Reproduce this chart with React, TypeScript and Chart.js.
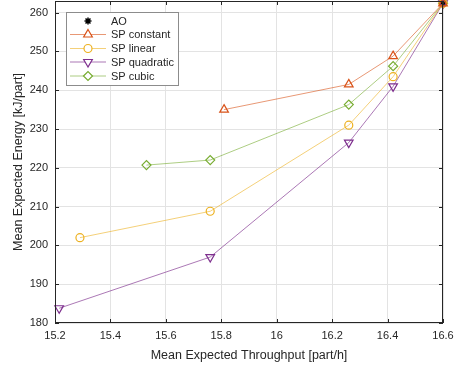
import React, { useEffect, useRef } from "react";
import { Chart, registerables, PointElement } from "chart.js";
Chart.register(...registerables);

const xAO = [16.6];
const yAO = [262.4];
const xConstant = [15.81, 16.26, 16.42, 16.6];
const yConstant = [235.0, 241.5, 248.8, 262.4];
const xLinear = [15.29, 15.76, 16.26, 16.42, 16.6];
const yLinear = [202.0, 208.8, 231.0, 243.5, 262.4];
const xQuadratic = [15.215, 15.76, 16.26, 16.42, 16.6];
const yQuadratic = [183.8, 197.0, 226.5, 241.0, 262.4];
const xCubic = [15.53, 15.76, 16.26, 16.42, 16.6];
const yCubic = [220.7, 222.0, 236.3, 246.2, 262.4];
const seriesNames = ["AO", "SP constant", "SP linear", "SP quadratic", "SP cubic"];
const xTicks = [15.2, 15.4, 15.6, 15.8, 16, 16.2, 16.4, 16.6];
const yTicks = [180, 190, 200, 210, 220, 230, 240, 250, 260];

const FONT = "'Liberation Sans', Arial, Helvetica, sans-serif";
const TEXT = "#262626";

const pts = (xs: number[], ys: number[]) => xs.map((x, i) => ({ x, y: ys[i] }));

const frameAndLegend = {
  id: "frameAndLegend",
  afterDraw(chart: any) {
    const { ctx, chartArea: a, scales } = chart;
    ctx.save();
    ctx.strokeStyle = "#262626";
    ctx.lineWidth = 1;
    ctx.strokeRect(a.left + 0.5, a.top + 0.5, a.right - a.left - 1, a.bottom - a.top - 1);
    const tl = 4;
    ctx.beginPath();
    xTicks.forEach((v) => {
      const px = Math.round(scales.x.getPixelForValue(v)) + 0.5;
      ctx.moveTo(px, a.bottom);
      ctx.lineTo(px, a.bottom - tl);
      ctx.moveTo(px, a.top);
      ctx.lineTo(px, a.top + tl);
    });
    yTicks.forEach((v) => {
      const py = Math.round(scales.y.getPixelForValue(v)) + 0.5;
      ctx.moveTo(a.left, py);
      ctx.lineTo(a.left + tl, py);
      ctx.moveTo(a.right, py);
      ctx.lineTo(a.right - tl, py);
    });
    ctx.stroke();

    const bx = 66, by = 12, bw = 112, bh = 73;
    ctx.fillStyle = "#ffffff";
    ctx.fillRect(bx, by, bw, bh);
    ctx.strokeStyle = "#8c8c8c";
    ctx.strokeRect(bx + 0.5, by + 0.5, bw, bh);
    const rowY = [21, 34.5, 48.5, 62, 76];
    const order = [4, 0, 1, 2, 3];
    order.forEach((di, r) => {
      const ds = chart.data.datasets[di];
      const y = rowY[r];
      if (ds.showLine !== false) {
        ctx.strokeStyle = ds.borderColor;
        ctx.lineWidth = 1;
        ctx.beginPath();
        ctx.moveTo(70, y);
        ctx.lineTo(106, y);
        ctx.stroke();
      }
      const p: any = new PointElement({} as any);
      p.x = 88;
      p.y = y;
      p.options = {
        pointStyle: ds.pointStyle,
        rotation: ds.pointRotation || 0,
        radius: ds.pointRadius,
        borderWidth: ds.pointBorderWidth,
        borderColor: ds.pointBorderColor,
        backgroundColor: "rgba(255,255,255,1)",
      };
      p.draw(ctx, { left: 0, top: 0, right: 457, bottom: 369 });
      ctx.fillStyle = TEXT;
      ctx.font = `11px ${FONT}`;
      ctx.textBaseline = "middle";
      ctx.textAlign = "left";
      ctx.fillText(seriesNames[di === 4 ? 0 : di + 1], 111, y + 0.5);
    });
    ctx.restore();
  },
};

export default function App() {
  const ref = useRef<HTMLCanvasElement>(null);
  useEffect(() => {
    const mk = (label: string, data: any, color: string, line: string, style: string, radius: number, rot = 0) => ({
      label,
      data,
      borderColor: line,
      backgroundColor: "#ffffff",
      pointBorderColor: color,
      pointBackgroundColor: "rgba(0,0,0,0)",
      pointStyle: style,
      pointRadius: radius,
      pointRotation: rot,
      pointBorderWidth: 1.2,
      borderWidth: 1,
      showLine: true,
      tension: 0,
      clip: false,
    });
    const dsConst = mk("SP constant", pts(xConstant, yConstant), "#D95319", "rgba(217,83,25,0.6)", "triangle", 5);
    const dsLin = mk("SP linear", pts(xLinear, yLinear), "#EDB120", "rgba(237,177,32,0.6)", "circle", 4);
    const dsQuad = mk("SP quadratic", pts(xQuadratic, yQuadratic), "#7E2F8E", "rgba(126,47,142,0.65)", "triangle", 5, 180);
    const dsCubic = mk("SP cubic", pts(xCubic, yCubic), "#77AC30", "rgba(119,172,48,0.6)", "rectRot", 4.5);
    const dsAO: any = mk("AO", pts(xAO, yAO), "#000000", "#000000", "star", 3.5);
    dsAO.showLine = false;
    dsAO.pointBorderWidth = 1.5;
    const chart = new Chart(ref.current!, {
      type: "scatter",
      data: { datasets: [dsConst, dsLin, dsQuad, dsCubic, dsAO] as any },
      plugins: [frameAndLegend],
      options: {
        animation: false,
        responsive: false,
        devicePixelRatio: 1,
        layout: { autoPadding: false, padding: { top: 1, right: 14, left: 11, bottom: 6 } },
        plugins: { legend: { display: false }, tooltip: { enabled: false } },
        scales: {
          x: {
            type: "linear",
            min: 15.2,
            max: 16.6,
            afterBuildTicks: (s: any) => {
              s.ticks = xTicks.map((v) => ({ value: v }));
            },
            afterFit: (s: any) => {
              s.height = 40;
              s.paddingLeft = 0;
              s.paddingRight = 0;
            },
            grid: { color: "#e3e3e3", drawTicks: false, lineWidth: 1 },
            border: { display: false },
            ticks: {
              color: TEXT,
              font: { family: FONT, size: 11 },
              padding: 6,
              maxRotation: 0,
              autoSkip: false,
              callback: (v: any) => String(Number(Number(v).toFixed(1))),
            },
            title: {
              display: true,
              text: "Mean Expected Throughput [part/h]",
              color: TEXT,
              font: { family: FONT, size: 12.5 },
              padding: { top: 2, bottom: 0 },
            },
          },
          y: {
            type: "linear",
            min: 180,
            max: 263,
            afterBuildTicks: (s: any) => {
              s.ticks = yTicks.map((v) => ({ value: v }));
            },
            afterFit: (s: any) => {
              s.width = 44;
              s.paddingTop = 0;
              s.paddingBottom = 0;
            },
            grid: { color: "#e3e3e3", drawTicks: false, lineWidth: 1 },
            border: { display: false },
            ticks: {
              color: TEXT,
              font: { family: FONT, size: 11 },
              padding: 7,
              autoSkip: false,
            },
            title: {
              display: true,
              text: "Mean Expected Energy [kJ/part]",
              color: TEXT,
              font: { family: FONT, size: 12.5 },
              padding: { top: 0, bottom: 2 },
            },
          },
        },
      },
    });
    return () => chart.destroy();
  }, []);
  return (
    <div style={{ position: "fixed", left: 0, top: 0, width: 457, height: 369, background: "#fff" }}>
      <canvas ref={ref} width={457} height={369} style={{ display: "block" }} />
    </div>
  );
}
